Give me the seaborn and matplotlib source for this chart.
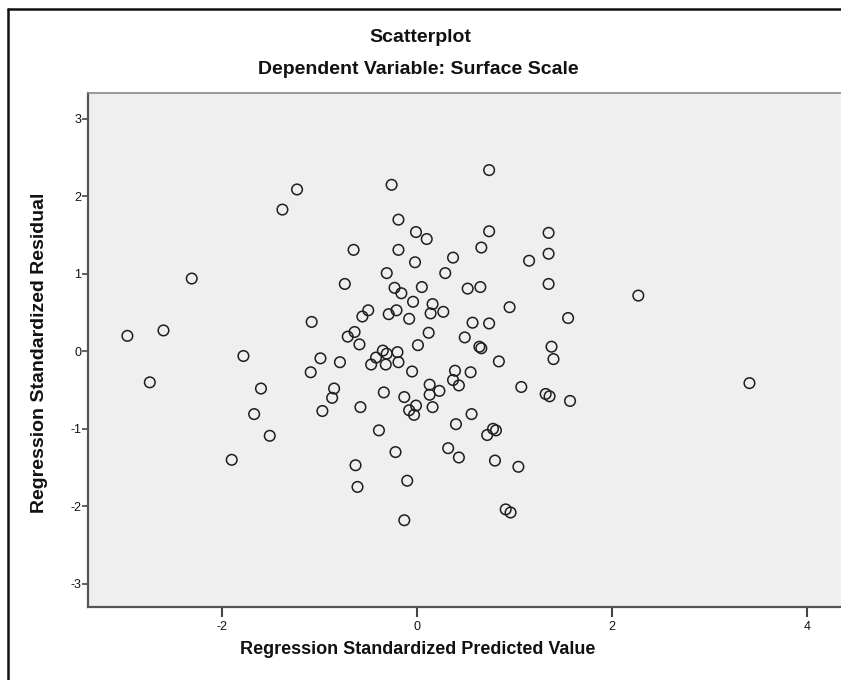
import matplotlib
matplotlib.use("Agg")
import matplotlib.pyplot as plt
from matplotlib.lines import Line2D
import seaborn as sns
import pandas as pd

# Regression standardized predicted values (x) and residuals (y)
pred = [-2.97, -2.60, -2.31, -1.38, -1.23, -1.78, -2.74, -1.60, -1.67, -1.51,
        -1.90, -0.26, -0.19, -0.01, 0.10, -0.65, -0.19, -0.02, 0.37, -0.31,
        0.29, -0.74, -0.23, -0.16, 0.05, -0.04, 0.16, 0.14, 0.27, -0.50,
        -0.56, -0.29, -0.21, -0.08, -1.08, 0.12, -0.64, -0.71, -0.59, 0.01,
        -0.99, -0.79, -1.09, -0.35, -0.31, -0.42, -0.20, -0.47, -0.32, -0.19,
        -0.05, 0.39, 0.37, 0.43, 0.13, 0.23, 0.13, -0.85, -0.87, -0.97,
        -0.34, -0.13, -0.01, -0.08, -0.03, 0.16, -0.58, 0.40, -0.39, -0.22,
        0.32, 0.43, -0.63, -0.61, -0.10, -0.13, 0.74, 0.74, 0.66, 1.35,
        1.35, 1.15, 0.52, 0.65, 1.35, 2.27, 0.95, 1.55, 0.57, 0.74,
        0.49, 0.64, 0.66, 1.38, 1.40, 0.84, 0.55, 1.07, 1.32, 1.36,
        1.57, 0.56, 0.78, 0.81, 0.72, 0.80, 1.04, 0.91, 0.96, 3.41]
resid = [0.20, 0.27, 0.94, 1.83, 2.09, -0.06, -0.40, -0.48, -0.81, -1.09,
         -1.40, 2.15, 1.70, 1.54, 1.45, 1.31, 1.31, 1.15, 1.21, 1.01,
         1.01, 0.87, 0.82, 0.75, 0.83, 0.64, 0.61, 0.49, 0.51, 0.53,
         0.45, 0.48, 0.53, 0.42, 0.38, 0.24, 0.25, 0.19, 0.09, 0.08,
         -0.09, -0.14, -0.27, 0.01, -0.03, -0.08, -0.01, -0.17, -0.17, -0.14,
         -0.26, -0.25, -0.37, -0.44, -0.43, -0.51, -0.56, -0.48, -0.60, -0.77,
         -0.53, -0.59, -0.70, -0.76, -0.82, -0.72, -0.72, -0.94, -1.02, -1.30,
         -1.25, -1.37, -1.47, -1.75, -1.67, -2.18, 2.34, 1.55, 1.34, 1.53,
         1.26, 1.17, 0.81, 0.83, 0.87, 0.72, 0.57, 0.43, 0.37, 0.36,
         0.18, 0.06, 0.04, 0.06, -0.10, -0.13, -0.27, -0.46, -0.55, -0.58,
         -0.64, -0.81, -1.00, -1.02, -1.08, -1.41, -1.49, -2.04, -2.08, -0.41]

x_ticks = [-2, 0, 2, 4]
y_ticks = [-3, -2, -1, 0, 1, 2, 3]

title = "Scatterplot"
subtitle = "Dependent Variable: Surface Scale"
x_label = "Regression Standardized Predicted Value"
y_label = "Regression Standardized Residual"

df = pd.DataFrame({"pred": pred, "resid": resid})

sns.set_theme(style="white")
plt.rcParams['font.family'] = ['Liberation Sans', 'DejaVu Sans']

W, H = 841, 680
fig = plt.figure(figsize=(W / 100, H / 100), dpi=100)
fig.patch.set_facecolor("white")

# axes in pixel layout: left 88, right 845 (beyond edge), top 93, bottom 607
ax = fig.add_axes([88 / W, (H - 607) / H, (845 - 88) / W, (607 - 93) / H])
ax.set_facecolor("#efefef")

sns.scatterplot(data=df, x="pred", y="resid", ax=ax, marker="o", s=58,
                facecolor="none", edgecolor="#1e1e1e", linewidth=1.1,
                legend=False, zorder=3)

ax.set_xlim(-3.374, 4.39)
ax.set_ylim(-3.30, 3.335)
ax.set_xticks(x_ticks)
ax.set_yticks(y_ticks)
ax.set_xticklabels([str(t) for t in x_ticks])
ax.set_yticklabels([str(t) for t in y_ticks])
ax.set_xlabel("")
ax.set_ylabel("")

for side in ["left", "bottom"]:
    ax.spines[side].set_visible(True)
    ax.spines[side].set_color("#555555")
    ax.spines[side].set_linewidth(1.6)
ax.spines["top"].set_visible(True)
ax.spines["top"].set_color("#8a8a8a")
ax.spines["top"].set_linewidth(1.2)
ax.spines["right"].set_visible(False)

ax.tick_params(axis="x", direction="out", length=7, width=1.5, color="#444444",
               labelsize=9, pad=3, bottom=True, labelcolor="#111111")
ax.tick_params(axis="y", direction="out", length=4, width=1.2, color="#444444",
               labelsize=9, pad=1, left=True, labelcolor="#111111")

# Titles and axis labels
fig.text(420 / W, 1 - 37 / H, title, ha="center", va="center",
         fontsize=14, fontweight="bold", color="#111111")
fig.text(418 / W, 1 - 69 / H, subtitle, ha="center", va="center",
         fontsize=14, fontweight="bold", color="#111111")
fig.text(418 / W, 1 - 650 / H, x_label, ha="center", va="center",
         fontsize=13, fontweight="bold", color="#111111")
fig.text(40 / W, 1 - 353 / H, y_label, ha="center", va="center",
         rotation=90, fontsize=14, fontweight="bold", color="#111111")

# Outer frame (left and top edges visible)
fig.add_artist(Line2D([8 / W, 8 / W], [0, 1 - 9 / H], transform=fig.transFigure,
                      color="#111111", linewidth=1.8))
fig.add_artist(Line2D([8 / W, 1], [1 - 9 / H, 1 - 9 / H], transform=fig.transFigure,
                      color="#111111", linewidth=1.8))

fig.savefig("out.png", dpi=100)
